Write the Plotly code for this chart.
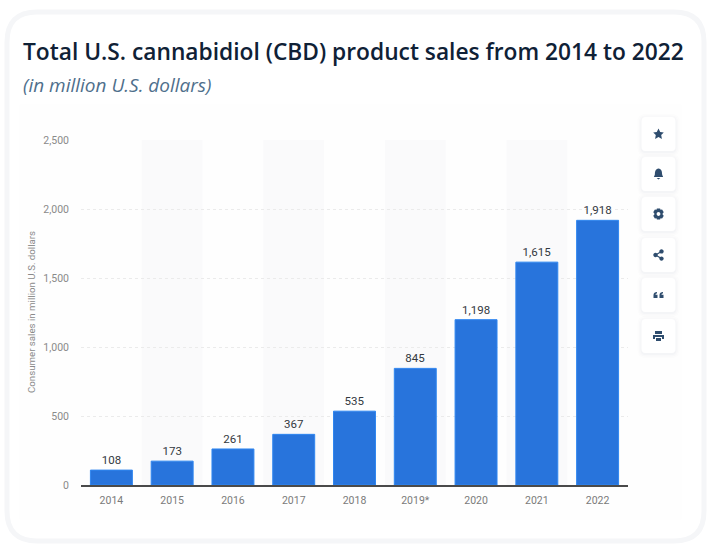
import re

import plotly.graph_objects as go

W = 720
H = 560

# Datos
YEARS = ["2014", "2015", "2016", "2017", "2018", "2019*", "2020", "2021", "2022"]
SALES = [108, 173, 261, 367, 535, 845, 1198, 1615, 1918]
Y_TICKS = [0, 500, 1000, 1500, 2000, 2500]

TITLE = "Total U.S. cannabidiol (CBD) product sales from 2014 to 2022"
SUBTITLE = "(in million U.S. dollars)"
Y_TITLE = "Consumer sales in million U.S. dollars"

BAR_COLOR = "#2874DC"
BAND_COLOR = "#FAFAFB"
ICON_COLOR = "#2F4D6E"


def px(path):
    """Convierte un path SVG en pixeles a coordenadas de paper."""
    nums = iter(re.findall(r"[A-Za-z]|-?\d+\.?\d*", path))
    out = []
    is_x = True
    for tok in nums:
        if tok.isalpha():
            out.append(tok)
            is_x = True
        elif is_x:
            out.append(f"{float(tok) / W:.5f}")
            is_x = False
        else:
            out.append(f"{1 - float(tok) / H:.5f}")
            is_x = True
    return " ".join(out)


def round_rect(x0, y0, x1, y1, r):
    return (
        f"M {x0 + r} {y0} L {x1 - r} {y0} Q {x1} {y0} {x1} {y0 + r} "
        f"L {x1} {y1 - r} Q {x1} {y1} {x1 - r} {y1} L {x0 + r} {y1} "
        f"Q {x0} {y1} {x0} {y1 - r} L {x0} {y0 + r} Q {x0} {y0} {x0 + r} {y0} Z"
    )


def circle(cx, cy, r):
    k = r * 0.5523
    return (
        f"M {cx - r} {cy} C {cx - r} {cy - k} {cx - k} {cy - r} {cx} {cy - r} "
        f"C {cx + k} {cy - r} {cx + r} {cy - k} {cx + r} {cy} "
        f"C {cx + r} {cy + k} {cx + k} {cy + r} {cx} {cy + r} "
        f"C {cx - k} {cy + r} {cx - r} {cy + k} {cx - r} {cy} Z"
    )


def add_shape(path, fill=None, line=None, width=0, layer="below", opacity=1):
    return dict(
        type="path",
        xref="paper",
        yref="paper",
        path=px(path),
        fillcolor=fill if fill else "rgba(0,0,0,0)",
        line=dict(color=line if line else "rgba(0,0,0,0)", width=width),
        layer=layer,
        opacity=opacity,
    )


fig = go.Figure()

fig.add_trace(
    go.Bar(
        x=list(range(len(YEARS))),
        y=SALES,
        width=0.69,
        marker=dict(color=BAR_COLOR, line=dict(color="#2F86F0", width=1)),
        text=[f"{v:,}" for v in SALES],
        textposition="outside",
        cliponaxis=False,
        textfont=dict(family="Roboto", size=11.5, color="#33393F"),
        hoverinfo="skip",
    )
)

shapes = []

# Marco de la tarjeta y panel del grafico
shapes.append(add_shape(round_rect(7, 12, 704, 541, 30), fill="#FFFFFF", line="#F5F6F8", width=5))
shapes.append(add_shape(round_rect(19, 104, 682, 520, 2), fill="#FEFEFE"))

# Franjas alternas, una por cada categoria impar
for i in range(1, len(YEARS), 2):
    shapes.append(
        dict(
            type="rect",
            xref="x",
            yref="y",
            x0=i - 0.5,
            x1=i + 0.5,
            y0=0,
            y1=Y_TICKS[-1],
            fillcolor=BAND_COLOR,
            line_width=0,
            layer="below",
        )
    )

# Botones de la derecha
BUTTON_CY = [134, 174, 214, 255, 295, 336]
cx = 658.5
for cy in BUTTON_CY:
    for grow, alpha in ((4, 0.012), (2.5, 0.016), (1, 0.025)):
        shapes.append(
            add_shape(
                round_rect(cx - 17 - grow, cy - 17 - grow + 1, cx + 17 + grow, cy + 17 + grow + 1, 4 + grow),
                fill="#2F4D6E",
                opacity=alpha,
            )
        )
    shapes.append(add_shape(round_rect(cx - 17, cy - 17, cx + 17, cy + 17, 4), fill="#FFFFFF"))

cy = BUTTON_CY[0]
star = (
    f"M {cx} {cy - 5.5} L {cx + 1.7} {cy - 1.9} L {cx + 5.3} {cy - 1.5} L {cx + 2.7} {cy + 1.1} "
    f"L {cx + 3.4} {cy + 5} L {cx} {cy + 3} L {cx - 3.4} {cy + 5} L {cx - 2.7} {cy + 1.1} "
    f"L {cx - 5.3} {cy - 1.5} L {cx - 1.7} {cy - 1.9} Z"
)
cy = BUTTON_CY[1]
bell = (
    f"M {cx} {cy - 5.5} C {cx + 3} {cy - 5} {cx + 3.6} {cy - 2.5} {cx + 3.6} {cy} "
    f"C {cx + 3.6} {cy + 1.5} {cx + 4.6} {cy + 2.2} {cx + 4.6} {cy + 3} L {cx - 4.6} {cy + 3} "
    f"C {cx - 4.6} {cy + 2.2} {cx - 3.6} {cy + 1.5} {cx - 3.6} {cy} "
    f"C {cx - 3.6} {cy - 2.5} {cx - 3} {cy - 5} {cx} {cy - 5.5} Z "
    f"M {cx - 1.8} {cy + 4} L {cx + 1.8} {cy + 4} L {cx} {cy + 5.6} Z"
)
cy = BUTTON_CY[2]
gear = (
    f"M {cx - 1.6} {cy - 5.6} L {cx + 1.6} {cy - 5.6} L {cx + 2} {cy - 4.2} L {cx + 3.6} {cy - 4.6} "
    f"L {cx + 5.3} {cy - 1.8} L {cx + 4.2} {cy - 0.8} L {cx + 4.2} {cy + 0.8} L {cx + 5.3} {cy + 1.8} "
    f"L {cx + 3.6} {cy + 4.6} L {cx + 2} {cy + 4.2} L {cx + 1.6} {cy + 5.6} L {cx - 1.6} {cy + 5.6} "
    f"L {cx - 2} {cy + 4.2} L {cx - 3.6} {cy + 4.6} L {cx - 5.3} {cy + 1.8} L {cx - 4.2} {cy + 0.8} "
    f"L {cx - 4.2} {cy - 0.8} L {cx - 5.3} {cy - 1.8} L {cx - 3.6} {cy - 4.6} L {cx - 2} {cy - 4.2} Z"
)
cy = BUTTON_CY[3]
share = circle(cx - 3, cy, 2.2) + " " + circle(cx + 3, cy - 3.6, 2.2) + " " + circle(cx + 3, cy + 3.6, 2.2)
share_lines = f"M {cx + 3} {cy - 3.6} L {cx - 3} {cy} L {cx + 3} {cy + 3.6}"
cy = BUTTON_CY[4]
quote = (
    f"M {cx - 5} {cy + 3} L {cx - 5} {cy} C {cx - 5} {cy - 2} {cx - 3.5} {cy - 3} {cx - 1.5} {cy - 3} "
    f"L {cx - 1.5} {cy - 1.4} C {cx - 2.5} {cy - 1.4} {cx - 3 } {cy - 1} {cx - 3} {cy - 0.3} "
    f"L {cx - 1} {cy - 0.3} L {cx - 1} {cy + 3} Z "
    f"M {cx + 1} {cy + 3} L {cx + 1} {cy} C {cx + 1} {cy - 2} {cx + 2.5} {cy - 3} {cx + 4.5} {cy - 3} "
    f"L {cx + 4.5} {cy - 1.4} C {cx + 3.5} {cy - 1.4} {cx + 3} {cy - 1} {cx + 3} {cy - 0.3} "
    f"L {cx + 5} {cy - 0.3} L {cx + 5} {cy + 3} Z"
)
cy = BUTTON_CY[5]
printer = (
    f"M {cx - 3.5} {cy - 5} L {cx + 3.5} {cy - 5} L {cx + 3.5} {cy - 2} L {cx - 3.5} {cy - 2} Z "
    f"M {cx - 5.5} {cy - 1} L {cx + 5.5} {cy - 1} L {cx + 5.5} {cy + 3} L {cx + 3.5} {cy + 3} "
    f"L {cx + 3.5} {cy + 1} L {cx - 3.5} {cy + 1} L {cx - 3.5} {cy + 3} L {cx - 5.5} {cy + 3} Z "
    f"M {cx - 2.5} {cy + 2} L {cx + 2.5} {cy + 2} L {cx + 2.5} {cy + 5} L {cx - 2.5} {cy + 5} Z"
)
for icon in (star, bell, gear, share, quote, printer):
    shapes.append(add_shape(icon, fill=ICON_COLOR, layer="above"))
shapes.append(add_shape(circle(cx, BUTTON_CY[2], 1.9), fill="#FFFFFF", layer="above"))
shapes.append(add_shape(share_lines, line=ICON_COLOR, width=1.2, layer="above"))

fig.update_xaxes(
    domain=[81 / W, 628 / W],
    range=[-0.5, len(YEARS) - 0.5],
    tickmode="array",
    tickvals=list(range(len(YEARS))),
    ticktext=YEARS,
    showgrid=False,
    showline=True,
    linecolor="#4A4A4A",
    linewidth=1.5,
    ticks="",
    ticklabelstandoff=5,
    tickfont=dict(family="Roboto", size=10.5, color="#7A7A7A"),
    zeroline=False,
)
fig.update_yaxes(
    domain=[1 - 485 / H, 1 - 140 / H],
    range=[0, Y_TICKS[-1]],
    tickmode="array",
    tickvals=Y_TICKS,
    ticktext=[f"{v:,}" for v in Y_TICKS],
    showgrid=True,
    gridcolor="#EBEBEB",
    gridwidth=1,
    griddash="dot",
    ticks="",
    ticklabelstandoff=11,
    tickfont=dict(family="Roboto", size=10.5, color="#8A8A8A"),
    zeroline=False,
    showline=False,
)

fig.update_layout(
    width=W,
    height=H,
    margin=dict(l=0, r=0, t=0, b=0, autoexpand=False),
    paper_bgcolor="#FFFFFF",
    plot_bgcolor="rgba(0,0,0,0)",
    showlegend=False,
    font_family="Open Sans",
    shapes=shapes,
    annotations=[
        dict(
            xref="paper",
            yref="paper",
            x=20.5 / W,
            y=1 - 51 / H,
            xanchor="left",
            yanchor="middle",
            showarrow=False,
            text=TITLE,
            font=dict(family="Open Sans", size=22.75, color="#0F2136", weight=600),
        ),
        dict(
            xref="paper",
            yref="paper",
            x=20.5 / W,
            y=1 - 85 / H,
            xanchor="left",
            yanchor="middle",
            showarrow=False,
            text=f"<i>{SUBTITLE}</i>",
            font=dict(family="Open Sans", size=19, color="#4F6F8C"),
        ),
        dict(
            xref="paper",
            yref="paper",
            x=31 / W,
            y=1 - 312 / H,
            xanchor="center",
            yanchor="middle",
            textangle=-90,
            showarrow=False,
            text=Y_TITLE,
            font=dict(family="Roboto", size=9.7, color="#8A8A8A"),
        ),
    ],
)

fig.write_html(
    "out.html",
    config={"displayModeBar": False},
    post_script="document.body.style.margin='0';",
)
